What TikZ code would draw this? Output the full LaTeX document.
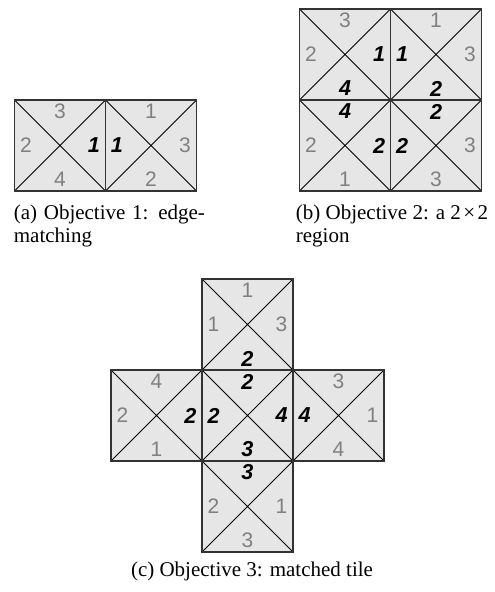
\documentclass[tikz,border=0pt]{standalone}
\usepackage{fontspec}
\setmainfont{Liberation Serif}
\newfontfamily\numfont{Liberation Sans}
\definecolor{tilefill}{RGB}{230,230,230}
\definecolor{numgray}{RGB}{128,128,128}
\newcommand{\grayn}[1]{\textcolor{numgray}{\numfont\fontsize{10.5pt}{12pt}\selectfont #1}}
\newcommand{\boldn}[1]{\textcolor{black}{\numfont\fontsize{10.8pt}{12pt}\selectfont\bfseries\itshape #1}}
\def\ts{91}
\def\off{34}
% #1 x, #2 y (top-left), #3 name, #4 top, #5 right, #6 bottom, #7 left
\newcommand{\tileat}[7]{%
  \fill[tilefill] (#1,#2) rectangle ++(\ts,\ts);
  \draw[diagline] (#1,#2) -- ++(\ts,\ts) (#1+\ts,#2) -- ++(-\ts,\ts);
  \draw[edgeline] (#1,#2) rectangle ++(\ts,\ts);
  \node[num] (#3t) at (#1+\ts/2,#2+\ts/2-\off) {#4};
  \node[num] (#3r) at (#1+\ts/2+\off,#2+\ts/2) {#5};
  \node[num] (#3b) at (#1+\ts/2,#2+\ts/2+\off) {#6};
  \node[num] (#3l) at (#1+\ts/2-\off,#2+\ts/2) {#7};
}
\begin{document}
\begin{tikzpicture}[x=0.5pt,y=-0.5pt,
  diagline/.style={black,line width=0.5pt},
  edgeline/.style={black!80,line width=0.6pt},
  num/.style={inner sep=0pt,anchor=center},
  captext/.style={inner sep=0pt,font=\fontsize{10.5pt}{11.3pt}\selectfont}]
\useasboundingbox (0,0) rectangle (494,592);
% (a)
\tileat{14.5}{100}{aA}{\grayn{3}}{\boldn{1}}{\grayn{4}}{\grayn{2}}
\tileat{105.5}{100}{aB}{\grayn{1}}{\grayn{3}}{\grayn{2}}{\boldn{1}}
\node[captext,anchor=base west] (capa1) at (13.5,220) {\makebox[95.5pt][s]{(a) Objective 1: edge-}};
\node[captext,anchor=base west] (capa2) at (13.5,242.5) {matching};
% (b)
\tileat{299.5}{9}{bA}{\grayn{3}}{\boldn{1}}{\boldn{4}}{\grayn{2}}
\tileat{390.5}{9}{bB}{\grayn{1}}{\grayn{3}}{\boldn{2}}{\boldn{1}}
\tileat{299.5}{100}{bC}{\boldn{4}}{\boldn{2}}{\grayn{1}}{\grayn{2}}
\tileat{390.5}{100}{bD}{\boldn{2}}{\grayn{3}}{\grayn{3}}{\boldn{2}}
\node[captext,anchor=base west] (capb1) at (295.5,220) {(b) Objective 2: a 2\kern1.2pt×\kern1.2pt2};
\node[captext,anchor=base west] (capb2) at (295.5,242.5) {region};
% (c)
\tileat{202}{279}{cT}{\grayn{1}}{\grayn{3}}{\boldn{2}}{\grayn{1}}
\tileat{111}{370}{cL}{\grayn{4}}{\boldn{2}}{\grayn{1}}{\grayn{2}}
\tileat{202}{370}{cC}{\boldn{2}}{\boldn{4}}{\boldn{3}}{\boldn{2}}
\tileat{293}{370}{cR}{\grayn{3}}{\grayn{1}}{\grayn{4}}{\boldn{4}}
\tileat{202}{461}{cB}{\boldn{3}}{\grayn{1}}{\grayn{3}}{\grayn{2}}
\node[captext,anchor=base] (capc) at (252,576) {(c) Objective 3: matched tile};
\end{tikzpicture}
\end{document}
